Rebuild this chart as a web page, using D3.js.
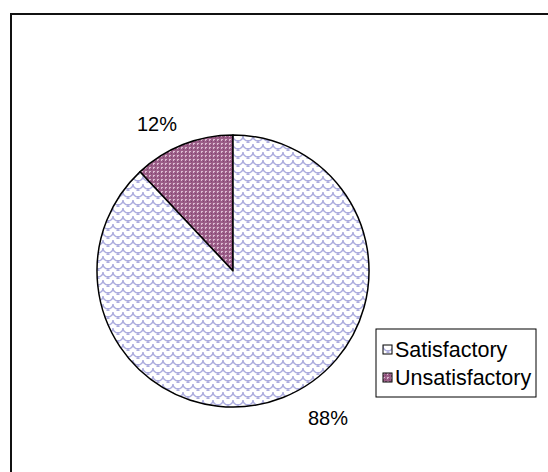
<!DOCTYPE html>
<html>
<head>
<meta charset="utf-8">
<script src="https://cdn.jsdelivr.net/npm/d3@7"></script>
<style>
  body { margin: 0; background: white; }
  svg { display: block; }
</style>
</head>
<body>
<div id="chart"></div>
<script>
// data
var categories = ["Unsatisfactory", "Satisfactory"];
var values = [12, 88];
var legendOrder = ["Satisfactory", "Unsatisfactory"];

var W = 548, H = 472;
var cx = 233, cy = 271, radius = 136;

var svg = d3.select("#chart")
    .append("svg")
    .attr("width", W)
    .attr("height", H);

var defs = svg.append("defs");

// fish-scale pattern for Satisfactory
var pSat = defs.append("pattern")
    .attr("id", "pat-sat")
    .attr("patternUnits", "userSpaceOnUse")
    .attr("width", 10)
    .attr("height", 8);
pSat.append("rect").attr("width", 10).attr("height", 8).attr("fill", "#ffffff");
pSat.append("path")
    .attr("d", "M0,1 A5,5 0 0,0 10,1 M-5,5 A5,5 0 0,0 5,5 M5,5 A5,5 0 0,0 15,5 M0,9 A5,5 0 0,0 10,9")
    .attr("fill", "none")
    .attr("stroke", "#acacde")
    .attr("stroke-width", 1.4);

// small grid of dots for Unsatisfactory
var pUn = defs.append("pattern")
    .attr("id", "pat-uns")
    .attr("patternUnits", "userSpaceOnUse")
    .attr("width", 4)
    .attr("height", 4);
pUn.append("rect").attr("width", 4).attr("height", 4).attr("fill", "#9c5e88");
pUn.append("rect").attr("x", 0).attr("y", 0).attr("width", 2).attr("height", 1).attr("fill", "#dcbcd2");
pUn.append("rect").attr("x", 0).attr("y", 0).attr("width", 1).attr("height", 2).attr("fill", "#dcbcd2");
pUn.append("rect").attr("x", 2).attr("y", 2).attr("width", 1).attr("height", 1).attr("fill", "#7e4470");

var fills = {"Satisfactory": "url(#pat-sat)", "Unsatisfactory": "url(#pat-uns)"};

// chart border (only top and left edges visible)
svg.append("path")
    .attr("d", "M11," + H + " L11,14 L" + W + ",14")
    .attr("fill", "none")
    .attr("stroke", "#111")
    .attr("stroke-width", 2);

// pie: first slice goes counter-clockwise from 12 o'clock
var pie = d3.pie()
    .sort(null)
    .startAngle(0)
    .endAngle(-2 * Math.PI)
    .value(function(d, i) { return values[i]; });

var arc = d3.arc().innerRadius(0).outerRadius(radius);

var g = svg.append("g")
    .attr("transform", "translate(" + cx + "," + cy + ")");

var arcs = pie(categories);

g.selectAll("path.slice")
    .data(arcs)
    .enter()
    .append("path")
    .attr("class", "slice")
    .attr("d", arc)
    .attr("fill", function(d) { return fills[d.data]; })
    .attr("stroke", "#000")
    .attr("stroke-width", 1.5)
    .attr("stroke-linejoin", "round");

// percentage labels outside the pie
var labelPos = [[-76, -140], [95, 154]];
g.selectAll("text.pct")
    .data(arcs)
    .enter()
    .append("text")
    .attr("class", "pct")
    .attr("x", function(d, i) { return labelPos[i][0]; })
    .attr("y", function(d, i) { return labelPos[i][1]; })
    .attr("text-anchor", "middle")
    .style("font-family", "Liberation Sans, Arial, sans-serif")
    .style("font-size", "20px")
    .text(function(d, i) { return values[i] + "%"; });

// legend
var legend = svg.append("g");
legend.append("rect")
    .attr("x", 376)
    .attr("y", 329)
    .attr("width", 160)
    .attr("height", 68)
    .attr("fill", "white")
    .attr("stroke", "#000")
    .attr("stroke-width", 1);

var items = legend.selectAll("g.item")
    .data(legendOrder)
    .enter()
    .append("g")
    .attr("class", "item")
    .attr("transform", function(d, i) { return "translate(383," + (345 + i * 28) + ")"; });

items.append("rect")
    .attr("width", 9)
    .attr("height", 9)
    .attr("fill", function(d) { return fills[d]; })
    .attr("stroke", "#000")
    .attr("stroke-width", 1);

items.append("text")
    .attr("x", 12)
    .attr("y", 12)
    .style("font-family", "Liberation Sans, Arial, sans-serif")
    .style("font-size", "21.5px")
    .text(function(d) { return d; });
</script>
</body>
</html>
